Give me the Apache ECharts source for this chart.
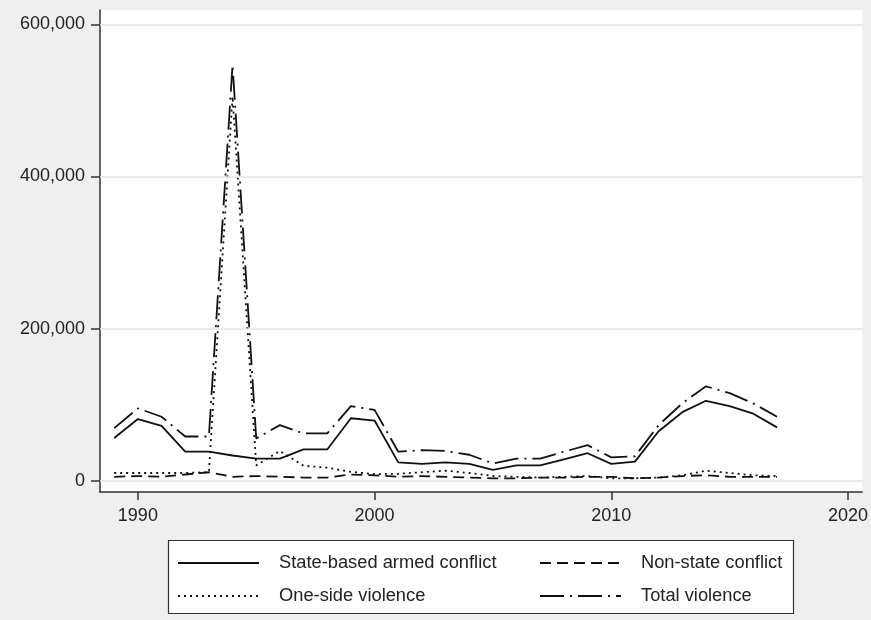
<!DOCTYPE html>
<html><head><meta charset="utf-8">
<script src="https://cdn.jsdelivr.net/npm/echarts@6/dist/echarts.min.js"></script>
<style>html,body{margin:0;padding:0;background:#efefef}#c{width:871px;height:620px}</style>
</head><body><div id="c"></div>
<script>
const years = [1989,1990,1991,1992,1993,1994,1995,1996,1997,1998,1999,2000,2001,2002,2003,2004,2005,2006,2007,2008,2009,2010,2011,2012,2013,2014,2015,2016,2017];
const stateBased = [56000,81000,72000,38000,38000,33000,29000,29000,41000,41000,82000,79000,24000,22000,24000,22000,14000,20000,20000,28000,36000,22000,25000,65000,90000,105000,98000,88000,70000];
const nonState = [5000,6000,5000,8000,11000,5000,6000,5000,4000,4000,8000,7000,5000,6000,5000,4000,3000,3000,4000,4000,5000,5000,3000,4000,6000,7000,5000,5000,5000];
const oneSided = [10000,10000,10000,10000,11000,505000,20000,39000,19500,17000,11500,8500,9000,11000,13000,10000,6000,5000,4000,5000,6000,3000,3000,4000,7000,13000,10000,7000,6000];
const totalViolence = [69000,95000,84000,58000,58000,547000,55500,73000,62000,62000,98000,93000,38000,40000,39000,34000,22600,29000,29000,38000,46700,30500,32000,73000,101600,124000,115000,101600,84000];
const xTicks = [1990,2000,2010,2020];
const yTicks = [0,200000,400000,600000];
const names = ['State-based armed conflict','Non-state conflict','One-side violence','Total violence'];

const pair = arr => years.map((y,i)=>[y,arr[i]]);
const font = '"Liberation Sans", Arial, sans-serif';
const chart = echarts.init(document.getElementById('c'));
const legendBase = {orient:'horizontal', padding:0, itemWidth:81, itemHeight:14, itemGap:0,
  itemStyle:{opacity:0},
  textStyle:{fontFamily:font, fontSize:18.3, color:'#222', padding:[0,0,0,15]}, selectedMode:false};
chart.setOption({
  animation:false,
  backgroundColor:'#efefef',
  grid:{left:100, top:10, right:6, bottom:128, show:true, backgroundColor:'#ffffff', borderWidth:0},
  graphic:[{type:'rect', shape:{x:168.5,y:540.5,width:625,height:73}, style:{fill:'#ffffff', stroke:'#333', lineWidth:1.2}, z:-1}],
  legend:[
    Object.assign({}, legendBase, {left:177, top:554, data:[names[0]]}),
    Object.assign({}, legendBase, {left:539, top:554, data:[names[1]]}),
    Object.assign({}, legendBase, {left:177, top:587, data:[names[2]]}),
    Object.assign({}, legendBase, {left:539, top:587, data:[names[3]]})
  ],
  xAxis:{type:'value', min:1988.4, max:2020.6,
    axisLine:{show:true, onZero:false, lineStyle:{color:'#333', width:1.5}},
    axisTick:{show:true, length:8, customValues:xTicks, lineStyle:{color:'#333', width:1.5}},
    axisLabel:{customValues:xTicks, margin:15, fontFamily:font, fontSize:18, color:'#222', formatter:v=>String(v)},
    splitLine:{show:false}},
  yAxis:{type:'value', min:-15000, max:619000,
    axisLine:{show:true, onZero:false, lineStyle:{color:'#333', width:1.5}},
    axisTick:{show:true, length:9, customValues:yTicks, lineStyle:{color:'#333', width:1.5}},
    axisLabel:{customValues:yTicks, margin:15, fontFamily:font, fontSize:18, color:'#222',
      formatter:v=>v.toLocaleString('en-US')},
    splitLine:{show:false}},
  series:[
    {name:names[0], type:'line', data:pair(stateBased), symbol:'none', lineStyle:{color:'#111', width:1.8, type:'solid'}, itemStyle:{color:'#111'},
      markLine:{silent:true, symbol:'none', label:{show:false}, lineStyle:{color:'#e4e4e4', width:1.5, type:'solid'}, data:yTicks.map(v=>({yAxis:v}))}},
    {name:names[1], type:'line', data:pair(nonState), symbol:'none', lineStyle:{color:'#111', width:1.8, type:[11,6]}, itemStyle:{color:'#111'}},
    {name:names[2], type:'line', data:pair(oneSided), symbol:'none', lineStyle:{color:'#111', width:1.8, type:[2,4]}, itemStyle:{color:'#111'}},
    {name:names[3], type:'line', data:pair(totalViolence), symbol:'none', lineStyle:{color:'#111', width:1.8, type:[24,6,2,6]}, itemStyle:{color:'#111'}}
  ]
});
</script></body></html>
